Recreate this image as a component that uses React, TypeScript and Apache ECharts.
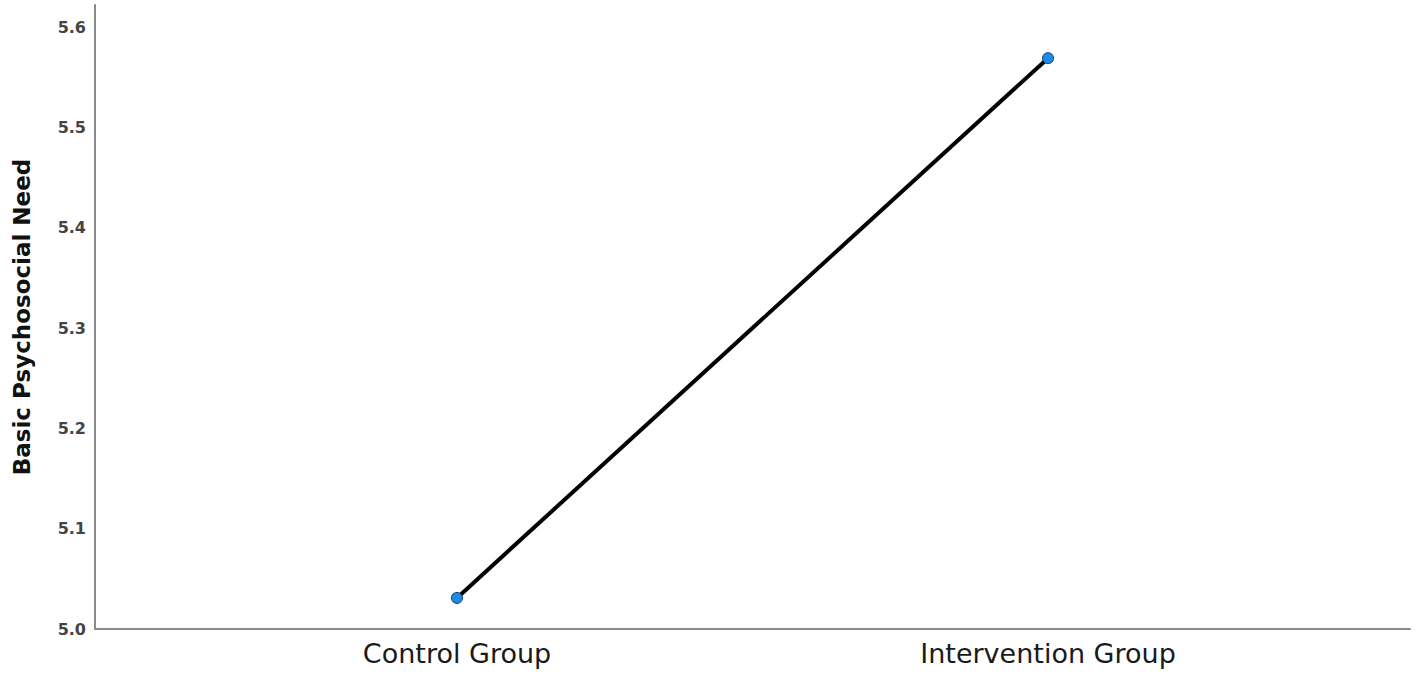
import React, { useEffect, useRef } from "react";
import * as echarts from "echarts";

const categories = ["Control Group", "Intervention Group"];
const values = [5.031, 5.569];
const yTicks = [5.0, 5.1, 5.2, 5.3, 5.4, 5.5, 5.6];
const yName = "Basic Psychosocial Need";

export default function App() {
  const ref = useRef<HTMLDivElement>(null);
  useEffect(() => {
    if (!ref.current) return;
    const chart = echarts.init(ref.current, null, { renderer: "svg" });
    chart.setOption({
      animation: false,
      grid: { left: 95, right: 7, top: 5, bottom: 47 },
      xAxis: {
        type: "value",
        min: -0.6125,
        max: 1.6125,
        splitLine: { show: false },
        axisLine: { show: true, onZero: false, lineStyle: { color: "#8a8a8a", width: 2 } },
        axisTick: { show: false },
        axisLabel: {
          customValues: [0, 1],
          formatter: (v: number) => categories[Math.round(v)] ?? "",
          fontSize: 27,
          color: "#1a1a1a",
          fontFamily: "DejaVu Sans",
          margin: 11,
        },
      },
      yAxis: {
        type: "value",
        min: 5.0,
        max: 5.622,
        name: yName,
        nameLocation: "middle",
        nameGap: 62,
        nameTextStyle: { fontSize: 23, fontWeight: "bold", color: "#111", fontFamily: "DejaVu Sans" },
        splitLine: { show: false },
        axisLine: { show: true, onZero: false, lineStyle: { color: "#8a8a8a", width: 2 } },
        axisTick: { show: false },
        axisLabel: {
          customValues: yTicks,
          formatter: (v: number) => v.toFixed(1),
          fontSize: 16,
          fontWeight: "bold",
          color: "#444",
          fontFamily: "DejaVu Sans",
          margin: 9,
        },
      },
      series: [
        {
          type: "line",
          data: values.map((v, i) => [i, v]),
          lineStyle: { color: "#000", width: 4 },
          symbol: "circle",
          symbolSize: 11,
          itemStyle: { color: "#1f8ae8", borderColor: "#0d3a66", borderWidth: 1 },
        },
      ],
    });
    return () => chart.dispose();
  }, []);
  return <div ref={ref} style={{ position: "absolute", left: 0, top: 0, width: 1417, height: 676 }} />;
}
